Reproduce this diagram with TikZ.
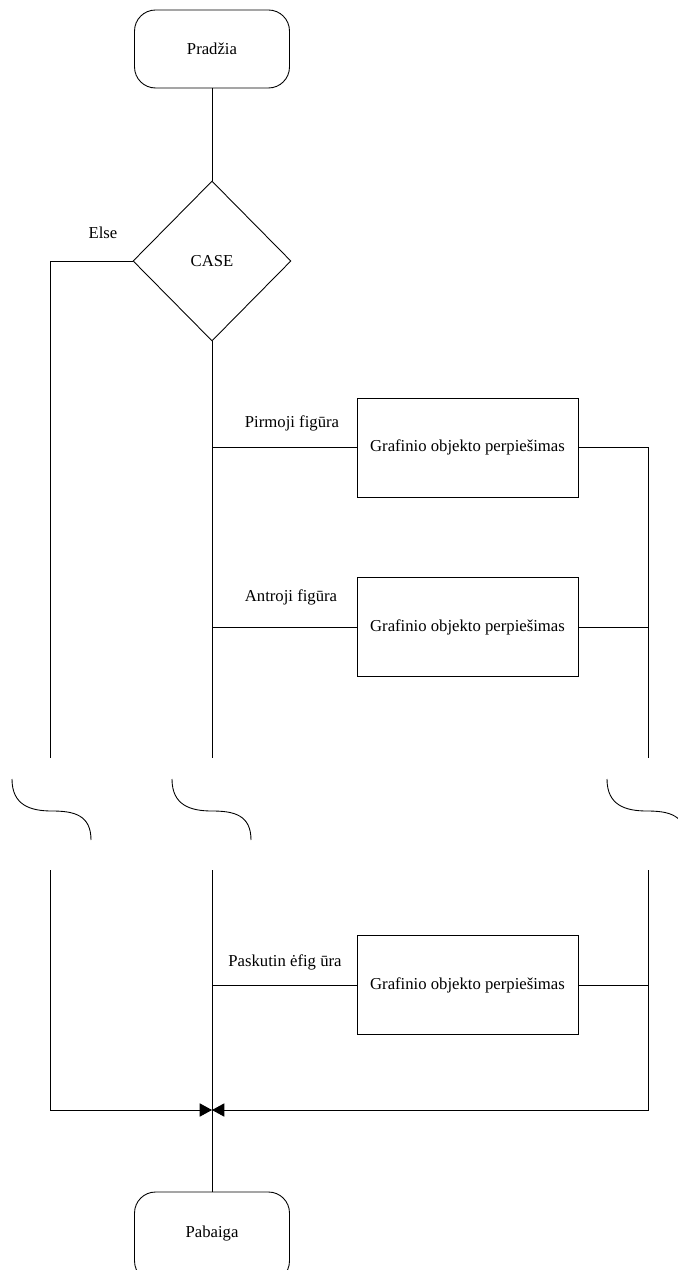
\documentclass[tikz,border=0pt]{standalone}
\usepackage{fontspec}
\setmainfont{Liberation Serif}
\usetikzlibrary{shapes.geometric, arrows.meta}
\tikzset{>=stealth}
\tikzset{
  every node/.style={font=\fontsize{9.5}{11}\selectfont},
  terminal/.style={draw, rounded corners=0.42cm, minimum width=3.1cm, minimum height=1.56cm, inner sep=0pt},
  decision/.style={draw, diamond, minimum width=3.16cm, minimum height=3.2cm, inner sep=0pt},
  process/.style={draw, minimum width=4.42cm, minimum height=1.98cm, inner sep=0pt},
  lbl/.style={inner sep=0pt},
  joinarrow/.style={-{Triangle[length=7pt, width=7.5pt]}},
}

\begin{document}
\begin{tikzpicture}[x=0.02cm, y=-0.02cm, line width=0.5pt]
    \useasboundingbox (0,0) rectangle (678,1270);
    \clip (0,0) rectangle (678,1270);
    % blocks
    \node[terminal] (start) at (212,49) {Pradžia};
    \node[decision] (case) at (212,261) {CASE};
    \node[process] (draw1) at (467.5,447.5) {Grafinio objekto perpiešimas};
    \node[process] (draw2) at (467.5,627) {Grafinio objekto perpiešimas};
    \node[process] (draw3) at (467.5,985) {Grafinio objekto perpiešimas};
    \node[terminal, minimum height=1.8cm] (stop) at (212,1237) {};
    \node[lbl] (stoplbl) at (212,1233) {Pabaiga};
    % labels
    \node[lbl] (elselbl) at (103,233) {Else};
    \node[lbl] (lbl1) at (292,423) {Pirmoji figūra};
    \node[lbl] (lbl2) at (291,597) {Antroji figūra};
    \node[lbl] (lbl3) at (285,962) {Paskutin ėfig ūra};
    % break ends
    \coordinate (lt) at (50,758);
    \coordinate (mt) at (212,758);
    \coordinate (rt) at (648,758);
    \coordinate (lb) at (50,870);
    \coordinate (mb) at (212,870);
    \coordinate (rb) at (648,870);
    \coordinate (merge) at (212,1110);
    % upper part
    \draw (start) -- (case);
    \draw (case.west) -| (lt);
    \draw (case.south) -- (mt);
    \draw (draw1.west -| mt) -- (draw1.west);
    \draw (draw2.west -| mt) -- (draw2.west);
    \draw (draw1.east) -| (rt);
    \draw (draw2.east) -- (draw2.east -| rt);
    % breaks
    \foreach \x in {12,172,607}
        \draw (\x,779) .. controls (\x,805) and (\x+18,811) .. (\x+40,811)
            .. controls (\x+62,811) and (\x+79,815) .. (\x+79,840);
    % lower part
    \draw (mb) -- (stop);
    \draw (draw3.west -| mb) -- (draw3.west);
    \draw (draw3.east) -- (draw3.east -| rb);
    \draw[joinarrow] (lb) |- (merge);
    \draw[joinarrow] (rb) |- (merge);
\end{tikzpicture}
\end{document}
